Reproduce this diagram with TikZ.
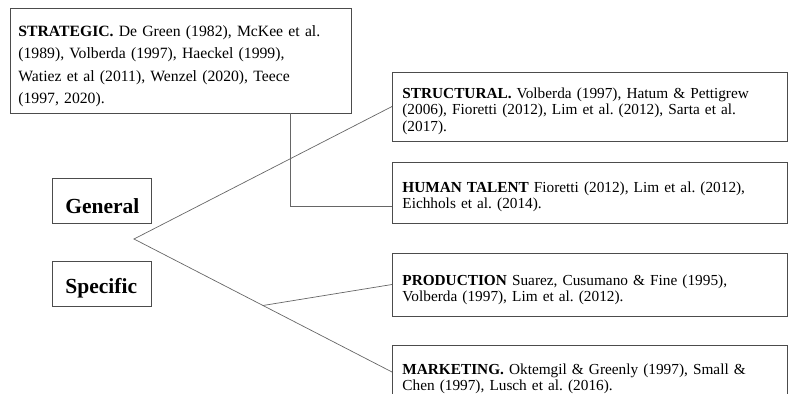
\documentclass[tikz,border=0pt]{standalone}
\usepackage{fontspec}
\setmainfont{Liberation Serif}
\usetikzlibrary{calc}
\frenchspacing

\begin{document}
\begin{tikzpicture}[x=1pt,y=-1pt]
	\tikzstyle{every node}=[inner ysep=0pt]
	\tikzstyle{refbox}=[draw=black!70,line width=0.8pt,anchor=base west,align=left,inner xsep=10pt,text width=375pt,font=\fontsize{15.3}{16.8}\selectfont]
	\tikzstyle{catbox}=[draw=black!70,line width=0.8pt,anchor=base west,align=left,inner xsep=13pt,text width=73pt,font=\fontsize{21.5}{24}\selectfont\bfseries]
	\tikzstyle{branch}=[draw=black!60,line width=0.7pt]
	\useasboundingbox (0,0) rectangle (788,394);
	\clip (0,0) rectangle (788,394);
	% general / specific
	\node[catbox,text height=35pt,text depth=10pt] (general) at (52,213) {General};
	\node[catbox,text height=32pt,text depth=13pt] (specific) at (52,293) {Specific};
	% strategic
	\node[refbox,inner xsep=8pt,text width=325pt,font=\fontsize{15.7}{22.5}\selectfont,text height=28pt,text depth=77pt] (strat) at (10,36)
		{\textbf{STRATEGIC.} De Green (1982), McKee et al.\\(1989), Volberda (1997), Haeckel (1999),\\Watiez et al (2011), Wenzel (2020), Teece\\(1997, 2020).};
	% specific references
	\node[refbox,text height=26pt,text depth=43pt] (struct) at (392,98)
		{\textbf{STRUCTURAL.} Volberda (1997), Hatum \& Pettigrew\\(2006), Fioretti (2012), Lim et al. (2012), Sarta et al.\\(2017).};
	\node[refbox,text height=30pt,text depth=31pt] (human) at (392,192)
		{\textbf{HUMAN TALENT} Fioretti (2012), Lim et al. (2012),\\Eichhols et al. (2014).};
	\node[refbox,text height=32pt,text depth=31pt] (prod) at (392,285)
		{\textbf{PRODUCTION} Suarez, Cusumano \& Fine (1995),\\Volberda (1997), Lim et al. (2012).};
	\node[refbox,text height=29pt,text depth=25pt,font=\fontsize{15.3}{16.3}\selectfont] (mkt) at (392,374)
		{\textbf{MARKETING.} Oktemgil \& Greenly (1997), Small \&\\Chen (1997), Lusch et al. (2016).};
	% connectors
	\coordinate (apex) at (134,239);
	\coordinate (split) at ($(apex)!0.5!(mkt.west)$);
	\coordinate (stratfoot) at ([xshift=280pt]strat.south west);
	\draw[branch] (struct.west) -- (apex) -- (mkt.west);
	\draw[branch] (split) -- (prod.west);
	\draw[branch] (stratfoot) |- ([yshift=17pt]human.south west);
\end{tikzpicture}
\end{document}
